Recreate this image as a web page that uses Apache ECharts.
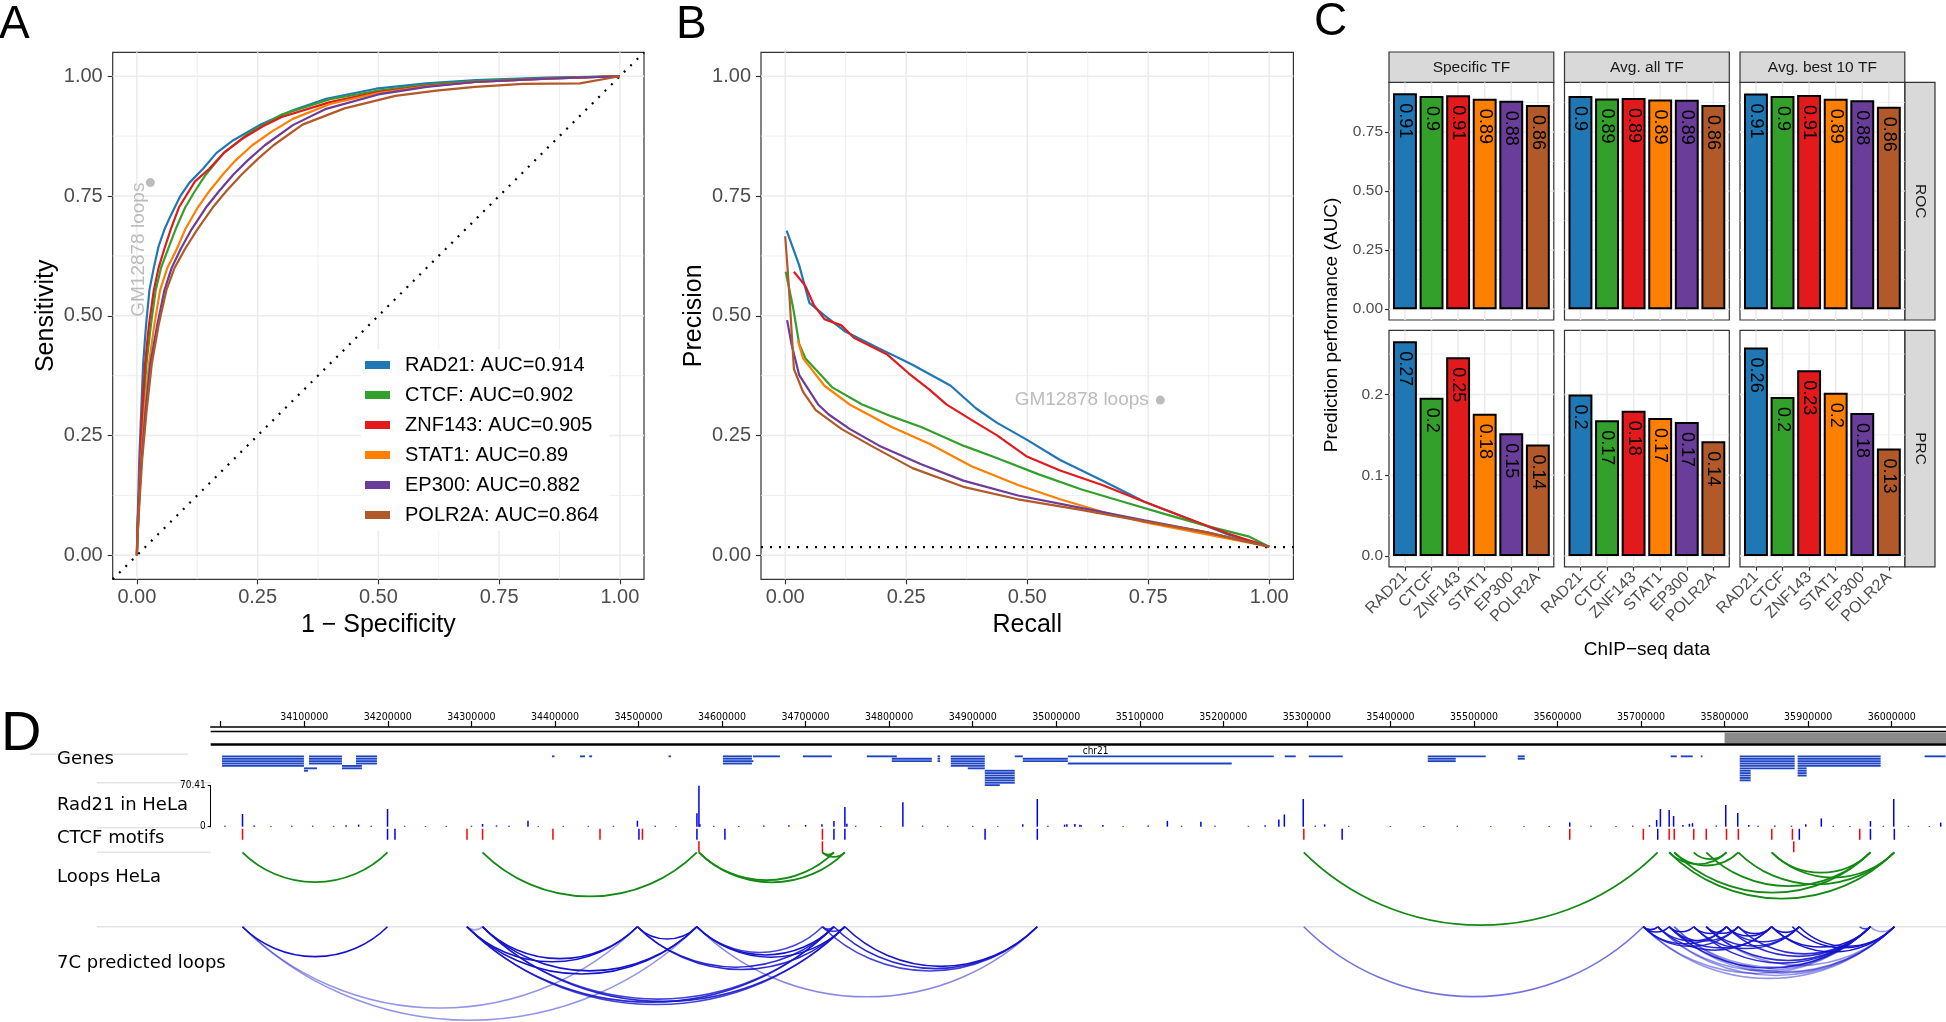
<!DOCTYPE html>
<html>
<head>
<meta charset="utf-8">
<title>7C loop prediction figure</title>
<script src="https://cdn.jsdelivr.net/npm/echarts@6/dist/echarts.min.js"></script>
<style>
  html, body { margin: 0; padding: 0; background: #ffffff; }
  #chart { width: 1946px; height: 1022px; }
</style>
</head>
<body>
<div id="chart"></div>
<script>
// ---------- data ----------
const tfNames = ['RAD21', 'CTCF', 'ZNF143', 'STAT1', 'EP300', 'POLR2A'];
const tfColors = ['#1F78B4', '#33A02C', '#E31A1C', '#FF7F00', '#6A3D9A', '#B15928'];
const rocAuc = [0.914, 0.902, 0.905, 0.89, 0.882, 0.864];

// panel A: ROC curves [1 - specificity, sensitivity]
const rocRad21 = [[0,0],[0.001,0.05],[0.003,0.12],[0.005,0.2],[0.009,0.3],[0.013,0.4],[0.019,0.48],[0.026,0.553],[0.035,0.6],[0.045,0.645],[0.057,0.68],[0.07,0.709],[0.09,0.75],[0.109,0.778],[0.137,0.807],[0.165,0.84],[0.199,0.866],[0.254,0.898],[0.323,0.929],[0.392,0.953],[0.495,0.974],[0.599,0.985],[0.702,0.992],[0.85,0.997],[1,1]];
const rocCtcf = [[0,0],[0.001,0.05],[0.004,0.12],[0.008,0.2],[0.013,0.3],[0.02,0.4],[0.029,0.48],[0.039,0.553],[0.05,0.6],[0.065,0.64],[0.08,0.68],[0.1,0.726],[0.12,0.76],[0.143,0.795],[0.18,0.84],[0.23,0.88],[0.3,0.92],[0.4,0.952],[0.5,0.97],[0.6,0.982],[0.7,0.99],[0.85,0.996],[1,1]];
const rocZnf143 = [[0,0],[0.001,0.05],[0.004,0.12],[0.007,0.2],[0.011,0.3],[0.017,0.4],[0.025,0.48],[0.035,0.553],[0.045,0.6],[0.057,0.64],[0.07,0.68],[0.087,0.726],[0.12,0.78],[0.15,0.807],[0.18,0.84],[0.219,0.87],[0.26,0.895],[0.3,0.915],[0.4,0.946],[0.5,0.967],[0.6,0.98],[0.7,0.988],[0.85,0.995],[1,1]];
const rocStat1 = [[0,0],[0.002,0.05],[0.005,0.12],[0.009,0.2],[0.016,0.3],[0.025,0.4],[0.036,0.48],[0.048,0.553],[0.063,0.6],[0.083,0.64],[0.1,0.68],[0.126,0.726],[0.15,0.76],[0.178,0.795],[0.205,0.825],[0.239,0.856],[0.28,0.885],[0.323,0.911],[0.4,0.942],[0.5,0.965],[0.6,0.979],[0.7,0.988],[0.85,0.995],[1,1]];
const rocEp300 = [[0,0],[0.002,0.05],[0.005,0.12],[0.01,0.2],[0.018,0.3],[0.028,0.4],[0.042,0.48],[0.057,0.553],[0.072,0.6],[0.091,0.64],[0.113,0.68],[0.143,0.726],[0.17,0.76],[0.2,0.795],[0.23,0.825],[0.265,0.856],[0.323,0.898],[0.392,0.932],[0.5,0.962],[0.6,0.978],[0.7,0.988],[0.85,0.995],[1,1]];
const rocPolr2a = [[0,0],[0.002,0.05],[0.006,0.12],[0.011,0.2],[0.02,0.3],[0.031,0.4],[0.045,0.48],[0.061,0.553],[0.078,0.6],[0.1,0.64],[0.125,0.68],[0.157,0.726],[0.185,0.76],[0.217,0.795],[0.25,0.827],[0.283,0.856],[0.343,0.899],[0.43,0.933],[0.535,0.959],[0.62,0.97],[0.7,0.978],[0.8,0.984],[0.917,0.985],[1,1]];
const rocCurves = [rocRad21, rocCtcf, rocZnf143, rocStat1, rocEp300, rocPolr2a];
const rocDiagonal = [[-0.05,-0.05],[1.05,1.05]];

// panel B: precision-recall curves [recall, precision]
const prRad21 = [[0.003,0.678],[0.029,0.605],[0.05,0.527],[0.081,0.501],[0.124,0.467],[0.194,0.432],[0.263,0.398],[0.342,0.354],[0.394,0.307],[0.437,0.277],[0.498,0.242],[0.568,0.199],[0.655,0.156],[0.742,0.112],[0.829,0.078],[0.916,0.043],[1,0.018]];
const prCtcf = [[0.001,0.592],[0.016,0.519],[0.029,0.441],[0.042,0.411],[0.098,0.35],[0.159,0.315],[0.22,0.29],[0.281,0.268],[0.368,0.229],[0.437,0.203],[0.524,0.169],[0.611,0.138],[0.698,0.112],[0.785,0.086],[0.872,0.061],[0.959,0.039],[1,0.018]];
const prZnf143 = [[0.018,0.592],[0.042,0.562],[0.059,0.523],[0.081,0.493],[0.116,0.48],[0.142,0.454],[0.211,0.419],[0.255,0.38],[0.298,0.346],[0.333,0.315],[0.394,0.277],[0.437,0.251],[0.498,0.207],[0.568,0.177],[0.655,0.147],[0.742,0.112],[0.829,0.078],[0.916,0.045],[1,0.018]];
const prStat1 = [[0.026,0.449],[0.037,0.411],[0.081,0.354],[0.133,0.315],[0.22,0.268],[0.298,0.233],[0.385,0.186],[0.481,0.147],[0.568,0.117],[0.655,0.091],[0.742,0.069],[0.829,0.052],[0.916,0.035],[1,0.018]];
const prEp300 = [[0.004,0.491],[0.013,0.441],[0.029,0.376],[0.068,0.315],[0.09,0.294],[0.133,0.264],[0.194,0.229],[0.281,0.19],[0.368,0.156],[0.481,0.125],[0.611,0.099],[0.742,0.073],[0.872,0.048],[1,0.018]];
const prPolr2a = [[0,0.666],[0.007,0.57],[0.018,0.389],[0.037,0.341],[0.063,0.303],[0.116,0.264],[0.177,0.229],[0.263,0.182],[0.368,0.143],[0.481,0.117],[0.611,0.095],[0.742,0.071],[0.872,0.048],[1,0.018]];
const prCurves = [prRad21, prCtcf, prZnf143, prStat1, prEp300, prPolr2a];
const prBaseline = 0.017;

const gmRoc = [0.028, 0.778];
const gmPr = [0.775, 0.324];

const unitTicks = [0, 0.25, 0.5, 0.75, 1];
const unitMinor = [0.125, 0.375, 0.625, 0.875];

// panel C: bar values
const facetNames = ['Specific TF', 'Avg. all TF', 'Avg. best 10 TF'];
const metricNames = ['ROC', 'PRC'];
const rocSpecific = [0.914, 0.902, 0.905, 0.89, 0.882, 0.864];
const rocAvgAll = [0.902, 0.892, 0.894, 0.887, 0.886, 0.864];
const rocBest10 = [0.913, 0.902, 0.906, 0.891, 0.884, 0.857];
const prcSpecific = [0.266, 0.196, 0.246, 0.176, 0.152, 0.138];
const prcAvgAll = [0.200, 0.168, 0.180, 0.171, 0.166, 0.142];
const prcBest10 = [0.258, 0.197, 0.230, 0.202, 0.177, 0.133];
const rocBarTicks = [0, 0.25, 0.5, 0.75];
const rocBarMinor = [0.125, 0.375, 0.625, 0.875];
const prcBarTicks = [0, 0.1, 0.2];
const prcBarMinor = [0.05, 0.15, 0.25];

// panel D: genome browser, positions in kb on chr21
const rulerTicks = [34000,34100,34200,34300,34400,34500,34600,34700,34800,34900,35000,35100,35200,35300,35400,35500,35600,35700,35800,35900,36000];
const rulerLabels = [34100,34200,34300,34400,34500,34600,34700,34800,34900,35000,35100,35200,35300,35400,35500,35600,35700,35800,35900,36000];
const rulerHighlight = [[35800, 36065]];
// [start, end, first row, number of rows]
const geneBlocks = [
  [34001.5,34099.6,0,5],[34105.6,34145.1,0,4],[34099.6,34115.2,5,1],[34099.6,34104.5,6,1],[34145.1,34169.0,4,2],
  [34161.9,34187.0,0,4],[34396.5,34399.5,0,1],[34430.0,34436.0,0,1],[34441.0,34444.5,0,1],[34536.0,34539.0,0,1],
  [34601.1,34635.8,0,4],[34635.8,34637.5,2,1],[34637.0,34669.3,0,1],[34696.8,34731.5,0,1],[34773.3,34809.2,0,1],
  [34803.2,34851.1,1,2],[34858.0,34861.0,0,3],[34873.8,34914.5,0,5],[34894.2,34914.5,5,1],[34914.5,34950.4,6,6],
  [34914.5,34932.5,12,1],[34950.4,34960.0,0,1],[34960.0,35013.9,1,2],[35013.9,35260.4,0,1],[35013.9,35210.1,3,1],
  [35273.6,35286.7,0,1],[35302.3,35343.0,0,1],[35444.7,35514.1,0,1],[35444.7,35478.2,1,2],[35552.4,35560.8,0,2],
  [35735.5,35742.7,0,1],[35747.5,35761.8,0,1],[35771.5,35773.5,0,1],[35818.1,35883.9,0,6],[35818.1,35831.2,6,5],
  [35887.4,35986.8,0,5],[35887.4,35898.2,5,4],[36039.4,36064.5,0,1]
];
const rad21Max = 70.41;
const rad21Peaks = [
  [34026.0,21.8],[34199.6,30.4],[34313.3,4.6],[34367.7,10.3],[34498.7,10.3],[34569.9,22.9],[34572.3,70.4],[34573.5,4],
  [34719.5,4],[34733.9,10],[34747.0,33.8],[34749.4,5],[34816.4,41.8],[34959.9,4],[34977.3,47.6],[35012.7,4],[35022.3,4.5],
  [35028.3,3.5],[35055.8,3],[35133.0,10],[35173.1,8.6],[35266.4,12.5],[35273.0,21],[35295.6,47.6],[35321.2,4],
  [35614.6,7.4],[35718.6,11.5],[35723.1,30.4],[35733.6,28.7],[35738.9,18.4],[35757.8,5],[35761.5,6],[35801.3,37.2],
  [35815.7,23.5],[35828.9,3],[35897.1,4],[35915.7,14.3],[35974.5,9.7],[36002.4,47.6],[36058.6,7]
];
const rad21Noise = [
  [34005,1.5],[34040,2],[34060,1.2],[34085,1.5],[34110,1.8],[34135,1.3],[34150,2.5],[34165,3.5],[34180,1.5],[34220,1.6],
  [34245,1.2],[34270,1.4],[34300,1.6],[34330,2.2],[34345,1.5],[34380,1.2],[34410,1.4],[34440,1.3],[34470,1.5],[34520,1.8],
  [34545,1.3],[34590,1.5],[34620,1.2],[34650,2],[34680,2.5],[34700,3],[34760,1.6],[34790,1.4],[34840,1.8],[34870,1.3],
  [34900,1.5],[34930,1.2],[34990,1.5],[35010,3.5],[35030,2.5],[35080,1.4],[35110,2],[35150,1.6],[35190,1.8],[35230,1.5],
  [35250,2.5],[35310,1.8],[35350,1.4],[35400,1.2],[35440,1.3],[35480,1.5],[35520,1.2],[35560,1.4],[35590,1.3],[35640,1.5],
  [35670,1.2],[35690,1.8],[35710,2.5],[35750,3],[35790,2],[35840,1.6],[35860,2.2],[35880,1.8],[35930,1.5],[35950,1.3],
  [35990,1.6],[36020,1.4],[36045,1.2]
];
// [position, strand (1 = +, red; 0 = -, blue), row]
const ctcfMotifs = [
  [34026.0,1,0],[34199.6,0,0],[34208.5,0,0],[34294.7,1,0],[34313.3,1,0],[34397.6,1,0],[34453.9,1,0],[34500.5,0,0],
  [34504.7,1,0],[34569.9,0,0],[34572.3,1,1],[34603.4,0,0],[34720.1,1,0],[34720.1,1,1],[34733.9,0,0],[34747.0,0,0],
  [34914.8,0,0],[34977.3,0,0],[35296.3,1,0],[35342.2,0,0],[35614.6,1,0],[35702.7,1,0],[35719.9,0,0],[35733.6,1,0],
  [35739.7,1,0],[35763.0,1,0],[35778.0,1,0],[35802.2,1,0],[35816.4,1,0],[35856.4,1,0],[35881.1,1,0],[35882.7,1,1],
  [35889.4,0,0],[35961.7,1,0],[35974.5,0,0],[36003.1,0,0]
];
// [anchor 1, anchor 2, opacity]
const loopsHela = [
  [34026.0,34199.6,1],[34313.3,34569.9,1],[34572.3,34747.0,1],[34572.3,34733.9,1],[34720.1,34747.0,1],[34720.1,34733.9,1],
  [35296.3,35719.9,1],[35763.0,35802.2,1],[35739.7,35816.4,1],[35733.6,35802.2,1],[35856.4,35974.5,1],[35856.4,36003.1,1],
  [35816.4,36003.1,1],[35778.0,35974.5,1],[35739.7,35974.5,1],[35733.6,36003.1,1]
];
const loops7C = [
  [34026.0,34199.6,1],[34026.0,34498.7,0.45],[34026.0,34569.9,0.45],[34294.7,34498.7,1],[34313.3,34498.7,1],
  [34294.7,34569.9,1],[34313.3,34569.9,1],[34498.7,34569.9,1],[34294.7,34733.9,0.9],[34313.3,34747.0,0.9],
  [34294.7,34747.0,0.8],[34313.3,34733.9,0.8],[34498.7,34733.9,0.9],[34498.7,34747.0,0.9],[34569.9,34720.1,0.8],
  [34569.9,34733.9,1],[34569.9,34747.0,1],[34720.1,34733.9,0.8],[34720.1,34747.0,0.8],[34720.1,34977.3,0.8],
  [34733.9,34977.3,0.9],[34747.0,34977.3,1],[34294.7,34313.3,0.4],[34569.9,34977.3,0.5],[35296.3,35702.7,0.6],
  [35702.7,35719.9,1],[35702.7,35733.6,1],[35733.6,35763.0,1],[35763.0,35802.2,1],[35778.0,35816.4,1],
  [35802.2,35856.4,1],[35816.4,35856.4,1],[35856.4,35889.4,1],[35702.7,35802.2,0.9],[35719.9,35802.2,0.9],
  [35733.6,35816.4,0.9],[35702.7,35816.4,0.9],[35719.9,35856.4,0.9],[35733.6,35856.4,0.9],[35763.0,35889.4,0.9],
  [35778.0,35889.4,0.9],[35802.2,35889.4,0.9],[35816.4,35974.5,0.9],[35856.4,35974.5,1],[35856.4,36003.1,1],
  [35881.1,36003.1,1],[35889.4,36003.1,1],[35802.2,35974.5,0.9],[35778.0,35974.5,0.9],[35763.0,35974.5,0.9],
  [35733.6,35974.5,0.9],[35961.7,35974.5,0.8],[35702.7,36003.1,0.45],[35702.7,35974.5,0.45],[35719.9,35974.5,0.45],
  [35733.6,36003.1,0.45],[35739.7,36003.1,0.45],[35778.0,36003.1,0.45],[35739.7,35974.5,0.45],[35974.5,36003.1,0.45],
  [35719.9,36003.1,0.45]
];

// ---------- styling ----------
const SANS = "'Liberation Sans', Arial, Helvetica, sans-serif";
const DJV = "'DejaVu Sans', Verdana, sans-serif";
const DJVC = "'DejaVu Sans Condensed', 'DejaVu Sans', sans-serif";
const GRID_COL = '#EBEBEB';
const TICK_COL = '#333333';
const LABEL_COL = '#4D4D4D';
const GM_COL = '#ABABAB';
const GENE_COL = '#1F45C2';
const LOOP_GREEN = '#148A14';
const LOOP_BLUE = '#1414CC';
const ARC_SAG = 0.206; // depth of an arc relative to its span

const grids = [], xAxes = [], yAxes = [], series = [], graphics = [];

function addGrid(left, top, width, height, border) {
  grids.push({ left, top, width, height, show: !!border, borderColor: '#333333', borderWidth: 1.2,
    backgroundColor: 'transparent', containLabel: false });
  return grids.length - 1;
}

// light ggplot-style grid lines drawn through the axes' scales
function gridLines(xi, yi, xMaj, xMin, yMaj, yMin) {
  const data = [];
  xMin.forEach(v => data.push([0, v, 0.8]));
  yMin.forEach(v => data.push([1, v, 0.8]));
  xMaj.forEach(v => data.push([0, v, 1.5]));
  yMaj.forEach(v => data.push([1, v, 1.5]));
  return {
    type: 'custom', xAxisIndex: xi, yAxisIndex: yi, silent: true, z: 1, data,
    renderItem: (params, api) => {
      const cs = params.coordSys;
      const v = api.value(1);
      const p = api.coord([v, v]);
      const shape = api.value(0) === 0
        ? { x1: p[0], y1: cs.y, x2: p[0], y2: cs.y + cs.height }
        : { x1: cs.x, y1: p[1], x2: cs.x + cs.width, y2: p[1] };
      return { type: 'line', shape, style: { stroke: GRID_COL, lineWidth: api.value(2) } };
    }
  };
}

function curvePanel(left, width, xName, yName) {
  const gi = addGrid(left, 52.3, width, 527, true);
  const xi = xAxes.length, yi = yAxes.length;
  xAxes.push({
    gridIndex: gi, type: 'value', min: -0.05, max: 1.05, minInterval: 0.25, maxInterval: 0.25,
    name: xName, nameLocation: 'middle', nameGap: 30,
    nameTextStyle: { fontSize: 25, color: '#000', fontFamily: SANS },
    axisLine: { show: false, onZero: false },
    axisTick: { show: true, customValues: unitTicks, length: 5, lineStyle: { color: TICK_COL, width: 1.2 } },
    axisLabel: { show: true, customValues: unitTicks, formatter: v => v.toFixed(2), fontSize: 20, color: LABEL_COL, fontFamily: SANS, margin: 8 },
    splitLine: { show: false }
  });
  yAxes.push({
    gridIndex: gi, type: 'value', min: -0.05, max: 1.05, minInterval: 0.25, maxInterval: 0.25,
    name: yName, nameLocation: 'middle', nameGap: 54,
    nameTextStyle: { fontSize: 25, color: '#000', fontFamily: SANS },
    axisLine: { show: false, onZero: false },
    axisTick: { show: true, customValues: unitTicks, length: 5, lineStyle: { color: TICK_COL, width: 1.2 } },
    axisLabel: { show: true, customValues: unitTicks, formatter: v => v.toFixed(2), fontSize: 20, color: LABEL_COL, fontFamily: SANS, margin: 10 },
    splitLine: { show: false }
  });
  series.push(gridLines(xi, yi, unitTicks, unitMinor, unitTicks, unitMinor));
  return { xi, yi };
}

// ---------- panel A ----------
const rocNames = tfNames.map((n, i) => n + ': AUC=' + rocAuc[i]);
const pA = curvePanel(112.7, 531.3, '1 \u2212 Specificity', 'Sensitivity');
series.push({ type: 'line', xAxisIndex: pA.xi, yAxisIndex: pA.yi, data: rocDiagonal, symbol: 'none', silent: true, z: 3,
  lineStyle: { color: '#000', width: 2.2, type: [2, 7] } });
rocCurves.forEach((d, i) => series.push({
  name: rocNames[i], type: 'line', xAxisIndex: pA.xi, yAxisIndex: pA.yi, data: d, symbol: 'none', showSymbol: false,
  color: tfColors[i], lineStyle: { color: tfColors[i], width: 2.2 }, z: 4
}));
series.push({ type: 'scatter', xAxisIndex: pA.xi, yAxisIndex: pA.yi, data: [gmRoc], symbolSize: 9, z: 5, silent: true,
  itemStyle: { color: GM_COL },
  label: { show: true, formatter: 'GM12878 loops', position: 'left', distance: 7, rotate: 90, align: 'right', verticalAlign: 'middle',
    color: GM_COL, fontSize: 19, fontFamily: SANS } });

// ---------- panel B ----------
const pB = curvePanel(761, 532.4, 'Recall', 'Precision');
series.push({ type: 'line', xAxisIndex: pB.xi, yAxisIndex: pB.yi, data: [[-0.05, prBaseline], [1.05, prBaseline]], symbol: 'none', silent: true, z: 3,
  lineStyle: { color: '#000', width: 2.2, type: [2, 7] } });
prCurves.forEach((d, i) => series.push({
  name: 'PR ' + tfNames[i], type: 'line', xAxisIndex: pB.xi, yAxisIndex: pB.yi, data: d, symbol: 'none', showSymbol: false,
  color: tfColors[i], lineStyle: { color: tfColors[i], width: 2.2 }, z: 4
}));
series.push({ type: 'scatter', xAxisIndex: pB.xi, yAxisIndex: pB.yi, data: [gmPr], symbolSize: 9, z: 5, silent: true,
  itemStyle: { color: GM_COL },
  label: { show: true, formatter: 'GM12878 loops', position: 'left', distance: 7, color: GM_COL, fontSize: 19, fontFamily: SANS } });

// ---------- panel C ----------
const cLefts = [1389, 1564.5, 1740];
const cWidth = 164.8;
const cRowTop = [82.4, 330.4];
const cRowHeight = [237.6, 236.4];
const cRows = [[rocSpecific, rocAvgAll, rocBest10], [prcSpecific, prcAvgAll, prcBest10]];
const cTicks = [rocBarTicks, prcBarTicks];
const cMinor = [rocBarMinor, prcBarMinor];
const catPos = tfNames.map((_, i) => i + 1);

cRows.forEach((rowVals, r) => {
  const maxV = Math.max(...rowVals.flat());
  const pad = maxV * 0.05;
  rowVals.forEach((vals, c) => {
    const gi = addGrid(cLefts[c], cRowTop[r], cWidth, cRowHeight[r], true);
    const xi = xAxes.length, yi = yAxes.length;
    const bottomMid = r === 1 && c === 1;
    xAxes.push({
      gridIndex: gi, type: 'value', min: 0.4, max: 6.6, minInterval: 1, maxInterval: 1,
      name: bottomMid ? 'ChIP\u2212seq data' : '', nameLocation: 'middle', nameGap: 73,
      nameTextStyle: { fontSize: 19, color: '#000', fontFamily: SANS },
      axisLine: { show: false, onZero: false },
      axisTick: { show: r === 1, customValues: catPos, length: 4, lineStyle: { color: TICK_COL, width: 1.2 } },
      axisLabel: { show: r === 1, customValues: catPos, rotate: 45, formatter: v => tfNames[Math.round(v) - 1],
        fontSize: 16, color: LABEL_COL, fontFamily: SANS, margin: 8 },
      splitLine: { show: false }
    });
    yAxes.push({
      gridIndex: gi, type: 'value', min: -pad, max: maxV + pad,
      axisLine: { show: false, onZero: false },
      axisTick: { show: c === 0, customValues: cTicks[r], length: 4, lineStyle: { color: TICK_COL, width: 1.2 } },
      axisLabel: { show: c === 0, customValues: cTicks[r], formatter: v => v.toFixed(r === 0 ? 2 : 1),
        fontSize: 15.5, color: LABEL_COL, fontFamily: SANS, margin: 6 },
      splitLine: { show: false }
    });
    series.push(gridLines(xi, yi, catPos, [], cTicks[r], cMinor[r]));
    series.push({
      type: 'bar', xAxisIndex: xi, yAxisIndex: yi, barWidth: 23.9, z: 3, silent: true,
      data: vals.map((v, i) => ({ value: [i + 1, v], itemStyle: { color: tfColors[i] } })),
      itemStyle: { borderColor: '#000', borderWidth: 2 },
      label: { show: true, position: 'insideTop', distance: 10, rotate: -90, align: 'left', verticalAlign: 'middle',
        formatter: p => String(Math.round(p.value[1] * 100) / 100), fontSize: 18, color: '#000', fontFamily: SANS }
    });
  });
});

facetNames.forEach((n, c) => {
  graphics.push({ type: 'rect', shape: { x: cLefts[c], y: 52, width: cWidth, height: 30.4 },
    style: { fill: '#D9D9D9', stroke: '#333333', lineWidth: 1.2 } });
  graphics.push({ type: 'text', x: cLefts[c] + cWidth / 2, y: 67.5,
    style: { text: n, fontSize: 15.5, fontFamily: SANS, fill: '#1A1A1A', align: 'center', verticalAlign: 'middle', textAlign: 'center', textVerticalAlign: 'middle' } });
});
metricNames.forEach((n, r) => {
  graphics.push({ type: 'rect', shape: { x: 1905, y: cRowTop[r], width: 30, height: cRowHeight[r] },
    style: { fill: '#D9D9D9', stroke: '#333333', lineWidth: 1.2 } });
  graphics.push({ type: 'text', x: 1920, y: cRowTop[r] + cRowHeight[r] / 2, rotation: -Math.PI / 2,
    style: { text: n, fontSize: 15.5, fontFamily: SANS, fill: '#1A1A1A', align: 'center', verticalAlign: 'middle', textAlign: 'center', textVerticalAlign: 'middle' } });
});
graphics.push({ type: 'text', x: 1332, y: 325, rotation: Math.PI / 2,
  style: { text: 'Prediction performance (AUC)', fontSize: 19, fontFamily: SANS, fill: '#000', align: 'center', verticalAlign: 'middle', textAlign: 'center', textVerticalAlign: 'middle' } });

// ---------- panel D ----------
const dMin = 33988, dMax = 36065;
const dLeft = 210.7, dWidth = 1946 - 210.7;

function genomeTrack(top, height, yMin, yMax, inverse) {
  const gi = addGrid(dLeft, top, dWidth, height, false);
  const xi = xAxes.length, yi = yAxes.length;
  xAxes.push({ gridIndex: gi, type: 'value', min: dMin, max: dMax, show: false });
  yAxes.push({ gridIndex: gi, type: 'value', min: yMin, max: yMax, inverse: !!inverse, show: false });
  return { gi, xi, yi };
}

// ruler
const tRuler = genomeTrack(727, 17.5, 0, 1);
Object.assign(xAxes[tRuler.xi], {
  show: true, position: 'top',
  axisLine: { show: true, onZero: false, lineStyle: { color: '#000', width: 1.5 } },
  axisTick: { show: true, customValues: rulerTicks, length: 6, lineStyle: { color: '#000', width: 1.2 } },
  axisLabel: { show: true, customValues: rulerLabels, formatter: v => String(Math.round(v * 1000)),
    fontSize: 10.5, fontFamily: DJVC, color: '#000', margin: 4 },
  splitLine: { show: false }
});
series.push({
  type: 'custom', xAxisIndex: tRuler.xi, yAxisIndex: tRuler.yi, silent: true, data: rulerHighlight,
  renderItem: (params, api) => {
    const cs = params.coordSys;
    const a = api.coord([api.value(0), 0])[0];
    const b = api.coord([api.value(1), 0])[0];
    return { type: 'group', children: [
      { type: 'line', shape: { x1: cs.x, y1: cs.y + 4.5, x2: cs.x + cs.width, y2: cs.y + 4.5 }, style: { stroke: '#000', lineWidth: 1.5 } },
      { type: 'rect', shape: { x: a, y: cs.y + 5.5, width: b - a, height: cs.height - 6.5 }, style: { fill: '#8A8A8A' } },
      { type: 'line', shape: { x1: cs.x, y1: cs.y + cs.height, x2: cs.x + cs.width, y2: cs.y + cs.height }, style: { stroke: '#000', lineWidth: 2.5 } }
    ] };
  }
});

// genes
const tGenes = genomeTrack(755.4, 31.2, 0, 13, true);
series.push({
  type: 'custom', xAxisIndex: tGenes.xi, yAxisIndex: tGenes.yi, silent: true, data: geneBlocks,
  renderItem: (params, api) => {
    const s = api.value(0), e = api.value(1), r0 = api.value(2), n = api.value(3);
    const children = [];
    for (let k = 0; k < n; k++) {
      const p0 = api.coord([s, r0 + k]);
      const p1 = api.coord([e, r0 + k + 1]);
      children.push({ type: 'rect', shape: { x: p0[0], y: p0[1], width: Math.max(p1[0] - p0[0], 1.5), height: (p1[1] - p0[1]) * 0.78 },
        style: { fill: GENE_COL } });
    }
    return { type: 'group', children };
  }
});

// Rad21 signal
const tRad = genomeTrack(785.7, 41, 0, rad21Max);
Object.assign(yAxes[tRad.yi], {
  show: true, position: 'left',
  axisLine: { show: true, onZero: false, lineStyle: { color: '#000', width: 1 } },
  axisTick: { show: true, customValues: [0, rad21Max], length: 3, lineStyle: { color: '#000', width: 1 } },
  axisLabel: { show: true, customValues: [0, rad21Max], fontSize: 10, fontFamily: DJVC, color: '#000', margin: 5 },
  splitLine: { show: false }
});
series.push({
  type: 'custom', xAxisIndex: tRad.xi, yAxisIndex: tRad.yi, silent: true, data: rad21Peaks.concat(rad21Noise),
  renderItem: (params, api) => {
    const p0 = api.coord([api.value(0), 0]);
    const p1 = api.coord([api.value(0), api.value(1)]);
    return { type: 'rect', shape: { x: p0[0] - 0.7, y: p1[1], width: 1.5, height: p0[1] - p1[1] }, style: { fill: '#0000F0' } };
  }
});

// CTCF motifs
const tCtcf = genomeTrack(828.3, 25, 0, 2, true);
series.push({
  type: 'custom', xAxisIndex: tCtcf.xi, yAxisIndex: tCtcf.yi, silent: true, data: ctcfMotifs,
  renderItem: (params, api) => {
    const row = api.value(2);
    const p0 = api.coord([api.value(0), row]);
    const p1 = api.coord([api.value(0), row + 1]);
    return { type: 'rect', shape: { x: p0[0] - 0.7, y: p0[1] + 0.5, width: 1.5, height: p1[1] - p0[1] - 1.5 },
      style: { fill: api.value(1) === 1 ? '#FF0000' : '#0000F0' } };
  }
});

function arcRenderer(color, width) {
  return (params, api) => {
    const cs = params.coordSys;
    const x1 = api.coord([api.value(0), 0])[0];
    const x2 = api.coord([api.value(1), 0])[0];
    const c = Math.max(x2 - x1, 1);
    const s = c * ARC_SAG;
    const r = (c * c / 4 + s * s) / (2 * s);
    const half = Math.asin(Math.min(1, (c / 2) / r));
    return { type: 'arc',
      shape: { cx: (x1 + x2) / 2, cy: cs.y + s - r, r, startAngle: Math.PI / 2 - half, endAngle: Math.PI / 2 + half, clockwise: true },
      style: { stroke: color, fill: 'none', lineWidth: width, opacity: api.value(2) } };
  };
}

const tLoops = genomeTrack(852.3, 74.4, 0, 1);
series.push({ type: 'custom', xAxisIndex: tLoops.xi, yAxisIndex: tLoops.yi, silent: true, data: loopsHela,
  renderItem: arcRenderer(LOOP_GREEN, 1.8) });

const t7c = genomeTrack(926.7, 95.3, 0, 1);
series.push({ type: 'custom', xAxisIndex: t7c.xi, yAxisIndex: t7c.yi, silent: true, data: loops7C,
  renderItem: arcRenderer(LOOP_BLUE, 1.6) });

// track decorations and labels
[[30, 754.3, 188], [97, 782.7, 211], [97, 827.7, 211], [97, 852.3, 211], [97, 926.7, 1946]].forEach(l => {
  graphics.push({ type: 'line', z: 0, shape: { x1: l[0], y1: l[1], x2: l[2], y2: l[1] }, style: { stroke: '#E4E4E8', lineWidth: 1.5 } });
});
const trackLabels = [['Genes', 759], ['Rad21 in HeLa', 805], ['CTCF motifs', 838], ['Loops HeLa', 877], ['7C predicted loops', 963]];
trackLabels.forEach(t => graphics.push({ type: 'text', x: 57, y: t[1],
  style: { text: t[0], fontSize: 18, fontFamily: DJV, fill: '#000', align: 'left', verticalAlign: 'middle', textAlign: 'left', textVerticalAlign: 'middle' } }));
graphics.push({ type: 'text', x: 1095.6, y: 751,
  style: { text: 'chr21', fontSize: 10, fontFamily: DJVC, fill: '#000', align: 'center', verticalAlign: 'middle', textAlign: 'center', textVerticalAlign: 'middle' } });

// panel letters
[['A', -1, 25, 46], ['B', 676, 25, 46], ['C', 1314, 22, 46], ['D', 1, 735, 56]].forEach(p => graphics.push({
  type: 'text', x: p[1], y: p[2],
  style: { text: p[0], fontSize: p[3], fontFamily: SANS, fill: '#000', align: 'left', verticalAlign: 'middle', textAlign: 'left', textVerticalAlign: 'middle' }
}));

// ---------- chart ----------
const chart = echarts.init(document.getElementById('chart'), null, { renderer: 'canvas' });
chart.setOption({
  animation: false,
  backgroundColor: '#ffffff',
  grid: grids,
  xAxis: xAxes,
  yAxis: yAxes,
  legend: {
    data: rocNames, orient: 'vertical', left: 361, top: 349, icon: 'rect', itemWidth: 25, itemHeight: 8, itemGap: 8,
    backgroundColor: '#ffffff', padding: [5, 10, 5, 4], selectedMode: false,
    textStyle: { fontSize: 20, color: '#000', fontFamily: SANS, lineHeight: 22, padding: [0, 0, 0, 10] }
  },
  graphic: { elements: graphics },
  series: series
});
</script>
